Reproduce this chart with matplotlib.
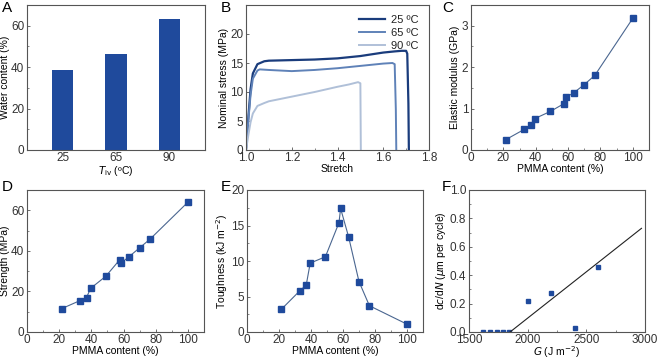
import numpy as np
import matplotlib
matplotlib.use("Agg")
import matplotlib.pyplot as plt
from matplotlib.ticker import MultipleLocator

plt.rcParams['font.family'] = ['Liberation Sans', 'DejaVu Sans']
plt.rcParams['font.size'] = 7.5
plt.rcParams['xtick.labelsize'] = 8.5
plt.rcParams['ytick.labelsize'] = 8.5
plt.rcParams['text.color'] = '#222222'
plt.rcParams['xtick.labelcolor'] = '#333333'
plt.rcParams['ytick.labelcolor'] = '#333333'

# A: water content
temps = ['25', '65', '90']
water = [38.5, 46.3, 63.2]

# B: stress-stretch curves
stretch_25 = [1.0, 1.01, 1.02, 1.03, 1.05, 1.08, 1.1, 1.2, 1.3, 1.4, 1.5, 1.55, 1.6, 1.65, 1.68, 1.70, 1.705, 1.71, 1.712]
stress_25 = [0.0, 5.5, 10.5, 13.2, 14.8, 15.3, 15.4, 15.5, 15.6, 15.8, 16.2, 16.5, 16.8, 17.0, 17.1, 17.1, 16.6, 8.0, 0.0]
stretch_65 = [1.0, 1.01, 1.02, 1.03, 1.05, 1.06, 1.1, 1.2, 1.3, 1.4, 1.5, 1.6, 1.64, 1.65, 1.655, 1.657]
stress_65 = [0.0, 5.0, 9.5, 12.3, 13.7, 13.9, 13.8, 13.6, 13.8, 14.1, 14.5, 14.9, 15.0, 14.8, 7.0, 0.0]
stretch_90 = [1.0, 1.01, 1.02, 1.03, 1.05, 1.08, 1.1, 1.2, 1.3, 1.4, 1.45, 1.49, 1.50, 1.502]
stress_90 = [0.0, 2.5, 4.8, 6.3, 7.6, 8.1, 8.4, 9.2, 10.0, 10.9, 11.3, 11.7, 11.5, 0.0]
curve_labels = ['25 ºC', '65 ºC', '90 ºC']

# C-E: vs PMMA content
pmma = [21.5, 33, 37, 39.5, 49, 57.5, 58.5, 63.5, 70, 76.5, 100]
modulus = [0.25, 0.50, 0.60, 0.76, 0.93, 1.12, 1.27, 1.38, 1.58, 1.80, 3.18]
strength = [11.5, 15.5, 17.0, 21.5, 27.5, 35.5, 34.0, 37.2, 41.5, 45.8, 64.0]
toughness = [3.2, 5.8, 6.6, 9.7, 10.6, 15.4, 17.4, 13.4, 7.1, 3.7, 1.1]

# F: crack growth
G = [1620, 1680, 1740, 1790, 1840, 2000, 2200, 2400, 2600]
dcdN = [0, 0, 0, 0, 0, 0.22, 0.275, 0.03, 0.46]
fit_G = [1850, 2970]
fit_dcdN = [0.0, 0.73]

blue = '#1f4a9c'
spine_c = '#555555'

fig = plt.figure(figsize=(6.6, 3.59), dpi=100)
W, H = 660, 359

def make_ax(l, t, r, b):
    ax = fig.add_axes([l / W, 1 - b / H, (r - l) / W, (b - t) / H])
    for s in ax.spines.values():
        s.set_color(spine_c)
        s.set_linewidth(0.8)
    ax.tick_params(direction='in', length=2.5, width=0.6, color=spine_c, pad=2)
    ax.tick_params(axis='x', pad=1.5)
    ax.tick_params(which='minor', direction='in', length=1.5, width=0.5, color=spine_c)
    return ax

def panel_label(x, y, s):
    fig.text(x / W, 1 - y / H, s, fontsize=11, va='center', ha='left', color='black')

# A
ax = make_ax(27, 5, 205, 150)
ax.bar(range(len(temps)), water, width=0.4, color=blue)
ax.set_xticks(range(len(temps)))
ax.set_xticklabels(temps)
ax.set_xlim(-0.67, 2.67)
ax.set_ylim(0, 70)
ax.yaxis.set_major_locator(MultipleLocator(20))
ax.yaxis.set_minor_locator(MultipleLocator(10))
ax.set_ylabel('Water content (%)', labelpad=1)
ax.set_xlabel(r'$T_{\mathrm{iv}}$ (ºC)', labelpad=0)
ax.tick_params(axis='x', length=0)
panel_label(2, 8, 'A')

# B
ax = make_ax(246, 5, 429, 150)
ax.plot(stretch_25, stress_25, color='#1a3c7c', lw=1.6, label=curve_labels[0])
ax.plot(stretch_65, stress_65, color='#5f82b8', lw=1.4, label=curve_labels[1])
ax.plot(stretch_90, stress_90, color='#b0c0d8', lw=1.4, label=curve_labels[2])
ax.set_xlim(1.0, 1.8)
ax.set_ylim(0, 25)
ax.set_yticks([0, 5, 10, 15, 20])
ax.xaxis.set_major_locator(MultipleLocator(0.2))
ax.xaxis.set_minor_locator(MultipleLocator(0.1))
ax.set_xlabel('Stretch', labelpad=0)
ax.set_ylabel('Nominal stress (MPa)', labelpad=1)
ax.legend(loc='upper right', frameon=False, handlelength=2.3, labelspacing=0.25,
          fontsize=8, borderaxespad=0.5, handletextpad=0.6)
panel_label(221, 8, 'B')

def pmma_panel(ax, y, ylim, major, ylabel):
    ax.plot(pmma, y, color='#4a6690', lw=0.8, marker='s', ms=4.2,
            mfc=blue, mec=blue)
    ax.set_xlim(0, 110)
    ax.set_ylim(*ylim)
    ax.xaxis.set_major_locator(MultipleLocator(20))
    ax.xaxis.set_minor_locator(MultipleLocator(10))
    ax.yaxis.set_major_locator(MultipleLocator(major))
    ax.yaxis.set_minor_locator(MultipleLocator(major / 2))
    ax.set_xlabel('PMMA content (%)', labelpad=0)
    ax.set_ylabel(ylabel, labelpad=1)

ax = make_ax(471, 5, 649, 150)
pmma_panel(ax, modulus, (0, 3.5), 1, 'Elastic modulus (GPa)')
panel_label(442, 8, 'C')

ax = make_ax(27, 190, 204, 332)
pmma_panel(ax, strength, (0, 70), 20, 'Strength (MPa)')
panel_label(2, 187, 'D')

ax = make_ax(247, 190, 423, 332)
pmma_panel(ax, toughness, (0, 20), 5, r'Toughness (kJ m$^{-2}$)')
panel_label(221, 187, 'E')

# F
ax = make_ax(469, 190, 645, 332)
ax.plot(G, dcdN, 's', color=blue, ms=3)
ax.plot(fit_G, fit_dcdN, color='#222222', lw=0.8)
ax.set_xlim(1500, 3000)
ax.set_ylim(0, 1.0)
ax.xaxis.set_major_locator(MultipleLocator(500))
ax.xaxis.set_minor_locator(MultipleLocator(250))
ax.yaxis.set_major_locator(MultipleLocator(0.2))
ax.yaxis.set_minor_locator(MultipleLocator(0.1))
ax.yaxis.set_major_formatter(plt.FormatStrFormatter('%.1f'))
ax.set_xlabel(r'$G$ (J m$^{-2}$)', labelpad=-1.5)
ax.set_ylabel(r'd$c$/d$N$ ($\mu$m per cycle)', labelpad=1)
panel_label(442, 187, 'F')

fig.savefig('out.png', dpi=100)
